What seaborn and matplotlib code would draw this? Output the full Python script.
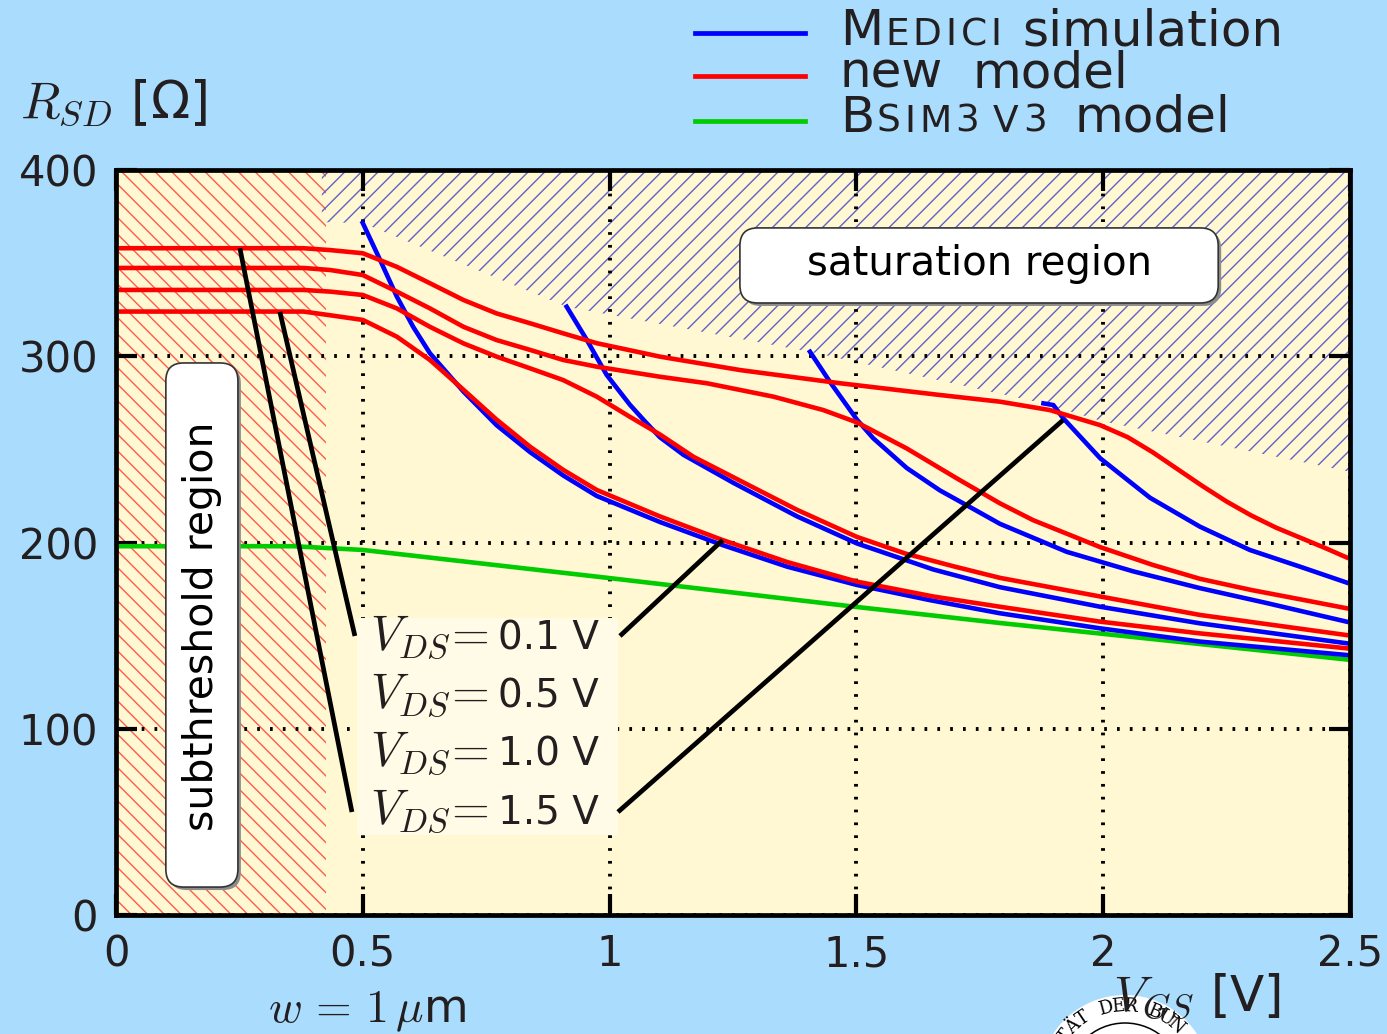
import numpy as np
import pandas as pd
import matplotlib
matplotlib.use("Agg")
import matplotlib.pyplot as plt
from matplotlib.patches import Polygon, Rectangle, FancyBboxPatch, Ellipse
from matplotlib.lines import Line2D
import seaborn as sns

# ─── DATA ─────────────────────────────────────────────────────────────────────

VDS_LABELS = ["0.1", "0.5", "1.0", "1.5"]

# new model, one curve per V_DS
new_x_01 = [0, 0.38, 0.434, 0.50, 0.569, 0.636, 0.704, 0.771, 0.839, 0.906, 0.974,
            1.102, 1.229, 1.36, 1.501, 1.656, 1.791, 1.994, 2.196, 2.493]
new_y_01 = [324, 324, 322, 319.5, 310.5, 298, 282, 266, 251.4, 239, 228.2,
            214, 201.3, 189.5, 179, 171, 165.5, 157.5, 151.2, 143.2]

new_x_05 = [0, 0.38, 0.434, 0.50, 0.569, 0.636, 0.704, 0.771, 0.839, 0.906, 0.974,
            1.041, 1.102, 1.17, 1.251, 1.38, 1.501, 1.60, 1.70, 1.791, 1.994, 2.196, 2.493]
new_y_05 = [335.6, 335.6, 334.7, 332.9, 325.7, 315.8, 306.9, 299.8, 293.5, 287.2, 278.3,
            267.5, 258, 246, 235, 217.5, 203, 194, 187, 181, 171, 161.1, 150.3]

new_x_10 = [0, 0.38, 0.434, 0.50, 0.569, 0.636, 0.704, 0.771, 0.839, 0.906, 0.974,
            1.102, 1.197, 1.332, 1.433, 1.501, 1.602, 1.703, 1.791, 1.858, 1.994,
            2.10, 2.196, 2.30, 2.399, 2.493]
new_y_10 = [347.4, 347.4, 346.3, 343.6, 334.7, 325.7, 315.8, 308.7, 303.4, 298, 294.4,
            289, 285.5, 278.3, 271.1, 264.5, 250.5, 234.5, 221, 212, 197.5,
            188, 180.5, 174.5, 169.5, 164.7]

new_x_15 = [0, 0.38, 0.434, 0.50, 0.569, 0.636, 0.704, 0.771, 0.839, 0.906, 0.974,
            1.102, 1.264, 1.467, 1.669, 1.791, 1.892, 1.994, 2.05, 2.10, 2.15, 2.20,
            2.25, 2.30, 2.35, 2.40, 2.45, 2.493]
new_y_15 = [358, 358, 357, 355.3, 348, 339.2, 330.2, 323, 317.7, 312.3, 307,
            299.8, 292.6, 285.5, 279.2, 275.6, 271.1, 263, 256.5, 248.5, 239.5, 230.5,
            222, 214.5, 208, 202.5, 197, 192]

# MEDICI simulation
med_x_01 = [0.5, 0.535, 0.569, 0.602, 0.636, 0.704, 0.771, 0.839, 0.906, 0.974,
            1.102, 1.229, 1.36, 1.501, 1.65, 1.791, 1.994, 2.196, 2.493]
med_y_01 = [371.5, 351.7, 332, 315.8, 301.6, 281, 263, 248.5, 236, 225,
            211, 198.6, 187, 177.2, 169, 162, 153.9, 146.8, 139.6]

med_x_05 = [0.913, 0.954, 0.994, 1.041, 1.07, 1.102, 1.15, 1.251, 1.38, 1.501, 1.656,
            1.791, 1.994, 2.196, 2.493]
med_y_05 = [326.6, 308.7, 290, 274, 265.5, 256.5, 247, 232, 214, 199.5, 185.5,
            176, 165.5, 156.6, 145.9]

med_x_10 = [1.406, 1.447, 1.501, 1.534, 1.602, 1.669, 1.737, 1.791, 1.926, 2.061,
            2.196, 2.331, 2.493]
med_y_10 = [302.4, 286, 266, 256, 240, 228, 218, 210, 195, 184.5,
            175.5, 167.5, 157.5]

med_x_15 = [1.879, 1.899, 1.919, 1.994, 2.095, 2.196, 2.297, 2.399, 2.493]
med_y_15 = [274.7, 273.8, 266.7, 245.2, 224, 208.5, 196, 187, 178.5]

# BSIM3v3 model
bsim_x = [0, 0.36, 0.5, 0.98, 1.50, 1.79, 2.50]
bsim_y = [198, 198, 196, 181.5, 165.4, 156.8, 137]

# saturation region boundary (hatched above)
sat_x = [0.417, 0.417, 0.5, 0.913, 1.406, 1.879, 2.0, 2.5, 2.5]
sat_y = [400, 372, 371.5, 326.6, 302.4, 274.7, 265, 238, 400]
sub_xmax = 0.425

# leader lines from the V_DS labels
lead_x = [[0.251, 0.478], [0.332, 0.484], [1.021, 1.229], [1.017, 1.919]]
lead_y = [[358, 55.3], [323.8, 149.8], [149.8, 201.3], [55.3, 265.8]]

x_ticks = [0, 0.5, 1, 1.5, 2, 2.5]
x_ticklabels = ["0", "0.5", "1", "1.5", "2", "2.5"]
y_ticks = [0, 100, 200, 300, 400]
y_ticklabels = ["0", "100", "200", "300", "400"]

# ─── STYLE ────────────────────────────────────────────────────────────────────

BG = "#aadcfd"
CREAM = "#fff8d2"
TXT = "#231f20"
BLUE, RED, GREEN = "#0000ff", "#ff0000", "#00cc00"

plt.rcParams["mathtext.fontset"] = "cm"
plt.rcParams["font.family"] = ["DejaVu Sans"]
plt.rcParams["hatch.linewidth"] = 1.0

W, H = 1387, 1034
fig = plt.figure(figsize=(W / 100, H / 100), dpi=100, facecolor=BG)
ax = fig.add_axes([116 / W, 1 - 915 / H, (1350 - 116) / W, (915 - 170) / H])
ax.set_facecolor(CREAM)
ax.set_axisbelow("line")

# hatched regions
ax.add_patch(Rectangle((0, 0), sub_xmax, 400, facecolor="none", edgecolor="#ff5a4a",
                       hatch="\\\\", lw=0, zorder=0.6))
ax.add_patch(Polygon(list(zip(sat_x, sat_y)), closed=True, facecolor="none",
                     edgecolor="#6262c8", hatch="//", lw=0, zorder=0.6))


def curves_frame(xs_list, ys_list):
    parts = [pd.DataFrame({"VGS": xs, "RSD": ys, "VDS": v})
             for v, xs, ys in zip(VDS_LABELS, xs_list, ys_list)]
    return pd.concat(parts, ignore_index=True)


df_new = curves_frame([new_x_01, new_x_05, new_x_10, new_x_15],
                      [new_y_01, new_y_05, new_y_10, new_y_15])
df_med = curves_frame([med_x_01, med_x_05, med_x_10, med_x_15],
                      [med_y_01, med_y_05, med_y_10, med_y_15])

sns.lineplot(x=bsim_x, y=bsim_y, color=GREEN, lw=3.3, ax=ax, zorder=2.1)
sns.lineplot(data=df_med, x="VGS", y="RSD", units="VDS", estimator=None, sort=False,
             color=BLUE, lw=3.3, ax=ax, zorder=2.2)
sns.lineplot(data=df_new, x="VGS", y="RSD", units="VDS", estimator=None, sort=False,
             color=RED, lw=3.3, ax=ax, zorder=2.3)

# V_DS label block
ax.add_patch(Rectangle((0.488, 43), 0.529, 116.5, facecolor="#fffbe6", ec="none", zorder=3.5))
for lx, ly in zip(lead_x, lead_y):
    ax.plot(lx, ly, color="black", lw=3.4, solid_capstyle="butt", zorder=3.6)


def round_box(x0, y0, x1, y1):
    sh = FancyBboxPatch((x0 + 0.006, y0 - 1.6), x1 - x0, y1 - y0,
                        boxstyle="round,pad=0,rounding_size=0.036", mutation_aspect=265,
                        fc="#8c8c8c", ec="none", zorder=4)
    bx = FancyBboxPatch((x0, y0), x1 - x0, y1 - y0,
                        boxstyle="round,pad=0,rounding_size=0.036", mutation_aspect=265,
                        fc="white", ec="#333333", lw=1.2, zorder=4.1)
    ax.add_patch(sh)
    ax.add_patch(bx)


round_box(1.264, 328.6, 2.233, 368.9)
ax.text((1.264 + 2.233) / 2, 349.5, "saturation region", fontsize=29, ha="center",
        va="center", color="black", zorder=5)
round_box(0.101, 15.0, 0.247, 296.4)
ax.text(0.174, 155, "subthreshold region", fontsize=29.5, rotation=90, ha="center",
        va="center", color="black", zorder=5)

# axes cosmetics
ax.set_xlim(0, 2.5)
ax.set_ylim(0, 400)
ax.set_xticks(x_ticks)
ax.set_xticklabels(x_ticklabels)
ax.set_yticks(y_ticks)
ax.set_yticklabels(y_ticklabels)
ax.set_xlabel("")
ax.set_ylabel("")
ax.grid(True, color="black", lw=2.8, ls=(0, (0.7, 2.6)))
ax.tick_params(direction="in", length=15, width=3, top=True, right=True,
               labelsize=30, labelcolor=TXT, pad=13)
for s in ax.spines.values():
    s.set_linewidth(3.4)
    s.set_zorder(10)

rend = fig.canvas.get_renderer()


def pieces(x_px, base_px, parts, **kw):
    # lay text pieces side by side on one baseline, in image pixels;
    # a third item in a piece sets it letter by letter with that extra gap
    x = x_px
    for p in parts:
        s, fs = p[0], p[1]
        if isinstance(s, (int, float)):
            x += s
            continue
        chunks = list(s) if len(p) > 2 else [s]
        for c in chunks:
            t = fig.text(x / W, 1 - base_px / H, c, fontsize=fs, va="baseline", ha="left",
                         color=TXT, **kw)
            x = t.get_window_extent(renderer=rend).x1 + 1 + (p[2] if len(p) > 2 else 0)


# V_DS labels
label_base = [650, 708, 766, 824]
for v, yb in zip(VDS_LABELS, label_base):
    pieces(370, yb, [(r"$V_{DS}\!=\!$", 35), (8, None), (v + " V", 28)], zorder=5)

# axis titles
fig.text(20 / W, 1 - 117 / H, r"$R_{SD}$ [Ω]", fontsize=37, va="baseline", color=TXT)
fig.text(268 / W, 1 - 1022 / H, r"$w\,=\,1\,\mu$m", fontsize=33, va="baseline", color=TXT)

# seal in the corner
cx, cy = 1125, 1081
fig.add_artist(Ellipse((cx / W, 1 - cy / H), 2 * 86 / W, 2 * 86 / H, transform=fig.transFigure,
                       fc="white", ec="none", zorder=1))
fig.add_artist(Ellipse((cx / W, 1 - cy / H), 2 * 58 / W, 2 * 58 / H, transform=fig.transFigure,
                       fc="none", ec="black", lw=1.1, zorder=1.1))
seal_txt = "TÄT DER BUN"
for i, ch in enumerate(seal_txt):
    ang = 143 - i * 9.5
    r = 75
    px = cx + r * np.cos(np.radians(ang))
    py = cy - r * np.sin(np.radians(ang))
    fig.text(px / W, 1 - py / H, ch, fontsize=13, family="DejaVu Serif", rotation=ang - 90,
             ha="center", va="center", color="black", zorder=2)

fig.text(1113 / W, 1 - 1010 / H, r"$V_{GS}$ [V]", fontsize=36, va="baseline", color=TXT, zorder=5)

# legend (small caps built from pieces)
BIG, SMALL = 36, 27
for yy, col in zip([33, 76, 121], [BLUE, RED, GREEN]):
    fig.add_artist(Line2D([695 / W, 805 / W], [1 - yy / H] * 2, color=col, lw=3.4,
                          transform=fig.transFigure))
pieces(840, 45, [("M", BIG, 1), ("EDICI", SMALL, 3), (16, None), ("simulation", BIG)])
pieces(840, 88, [("new", BIG), (28, None), ("model", BIG)])
pieces(840, 132, [("B", BIG, 1), ("SIM3", SMALL, 3), (10, None), ("V3", SMALL, 3),
                  (24, None), ("model", BIG)])

fig.savefig("out.png", dpi=100, facecolor=fig.get_facecolor())
